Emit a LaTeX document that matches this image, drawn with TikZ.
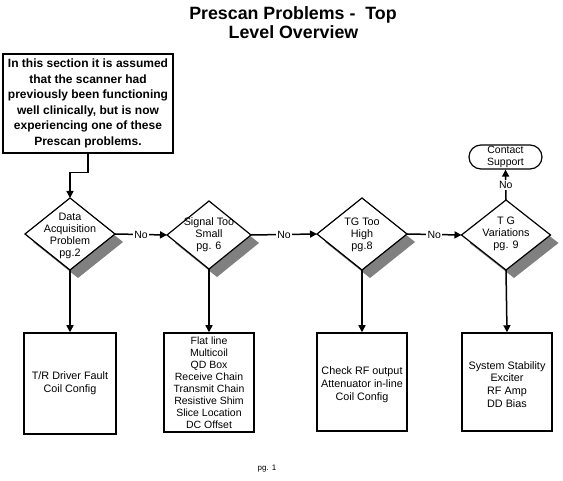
\documentclass[tikz,border=0pt]{standalone}
\usepackage{fontspec}
\setmainfont{Liberation Sans}
\usetikzlibrary{arrows.meta,shapes.geometric,shadows}
\definecolor{shadowgray}{RGB}{128,128,128}
\tikzset{
  box/.style={draw, line width=1.5pt, fill=white, inner sep=0pt, align=center},
  dia/.style={draw, shape=diamond, line width=1.2pt, fill=white, inner sep=0pt, outer sep=0pt,
    drop shadow={shadow xshift=8pt, shadow yshift=-8pt, opacity=1, fill=shadowgray}},
  dtext/.style={align=center, inner sep=0pt, font=\fontsize{10.8}{12}\selectfont},
  btext/.style={font=\fontsize{10.8}{12.8}\selectfont},
  conn/.style={line width=1.5pt, -{Triangle[length=7pt,width=7pt]}},
  nolab/.style={fill=white, inner sep=1.5pt, font=\fontsize{10.5}{12}\selectfont},
  ttl/.style={anchor=base, font=\fontsize{17.8}{20}\selectfont\bfseries},
}
\begin{document}
\begin{tikzpicture}[x=1pt,y=-1pt]
\useasboundingbox[fill=white] (0,0) rectangle (563,481);
% title
\node[ttl] (t1) at (293,20) {Prescan Problems -\ \ Top};
\node[ttl] (t2) at (293.5,39) {Level Overview};
% intro box
\node[box, minimum width=170pt, minimum height=99pt, font=\fontsize{12}{15.5}\selectfont\bfseries] (intro) at (88,103.5)
  {In this section it is assumed\\that the scanner had\\previously been functioning\\well clinically, but is now\\experiencing one of these\\Prescan problems.};
% diamonds
\node[dia, minimum width=90pt, minimum height=72pt] (d1) at (70,234) {};
\node[dia, minimum width=84pt, minimum height=68pt] (d2) at (209,235) {};
\node[dia, minimum width=90pt, minimum height=72pt] (d3) at (362,234) {};
\node[dia, minimum width=89pt, minimum height=70pt] (d4) at (506,235) {};
\node[dtext] (d1t) at (70,235.5) {Data\\Acquisition\\Problem\\pg.2};
\node[dtext] (d2t) at (209,234.5) {Signal Too\\Small\\pg. 6};
\node[dtext] (d3t) at (362,234.5) {TG Too\\High\\pg.8};
\node[dtext] (d4t) at (506,234) {T G\\Variations\\pg. 9};
% contact support
\node[draw, line width=1.2pt, rounded corners=12pt, minimum width=73pt, minimum height=24pt, inner sep=0pt,
  align=center, font=\fontsize{10.5}{11.5}\selectfont] (cs) at (505.5,157) {Contact\\Support};
% result boxes
\node[box, btext, minimum width=92pt, minimum height=101pt] (b1) at (70,383.5) {T/R Driver Fault\\Coil Config};
\node[box, minimum width=90pt, minimum height=99pt, font=\fontsize{10.5}{12}\selectfont] (b2) at (209,382.5)
  {Flat line\\Multicoil\\QD Box\\Receive Chain\\Transmit Chain\\Resistive Shim\\Slice Location\\DC Offset};
\node[box, minimum width=90pt, minimum height=98pt] (b3) at (362,382) {};
\node[btext, align=center] (b3t) at (362,385) {Check RF output\\Attenuator in-line\\Coil Config};
\node[box, minimum width=90pt, minimum height=98pt] (b4) at (507,382) {};
\node[btext, align=center] (b4t) at (507,384.5) {System Stability\\Exciter\\RF Amp\\DD Bias};
% connectors
\draw[conn] (intro.south) -- ++(0,19) -| (d1.north);
\draw[conn] (d1.east) -- node[nolab] (n1) {No} (d2.west);
\draw[conn] (d2.east) -- node[nolab] (n2) {No} (d3.west);
\draw[conn] (d3.east) -- node[nolab] (n3) {No} (d4.west);
\draw[conn] (d4.north) -- node[nolab] (n4) {No} (cs.south);
\draw[conn] (d1.south) -- (b1.north);
\draw[conn] (d2.south) -- (b2.north);
\draw[conn] (d3.south) -- (b3.north);
\draw[conn] (d4.south) -- (b4.north);
% page number
\node[font=\fontsize{8}{10}\selectfont] (pg) at (267,469) {pg. 1};
\end{tikzpicture}
\end{document}
